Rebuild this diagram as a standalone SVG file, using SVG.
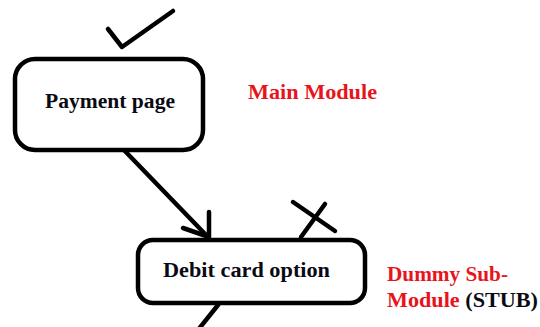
<svg xmlns="http://www.w3.org/2000/svg" width="540" height="327" viewBox="0 0 540 327">
  <style>
    .box { fill: #fff; stroke: #000; stroke-width: 4.5; }
    .ink { fill: none; stroke: #000; stroke-width: 4.5; stroke-linecap: round; stroke-linejoin: round; }
    .lbl { font-family: "Liberation Serif", "Times New Roman", "DejaVu Serif", serif; font-weight: 700; font-size: 20px; }
    .node { fill: #0a0a14; }
    .note { fill: #e8141c; }
  </style>
  <rect width="540" height="327" fill="#fff"/>

  <!-- connectors -->
  <g id="connectors">
    <path class="ink" d="M122,148 L207,236"/>
    <path class="ink" d="M209,212 L209,237 M183,228 L209,237"/>
    <path class="ink" d="M218,305 L198,330"/>
  </g>

  <!-- main module -->
  <g id="payment-page">
    <rect class="box" x="15" y="59" width="188" height="91" rx="20"/>
    <path class="ink" d="M108,29 L122,47 L173,11"/>
    <text class="lbl node" x="45" y="108" textLength="130" lengthAdjust="spacingAndGlyphs">Payment page</text>
  </g>

  <!-- stub sub-module -->
  <g id="debit-card-option">
    <rect class="box" x="138" y="240" width="227" height="63" rx="15"/>
    <path class="ink" d="M293,202 L335,231 M325,204 L301,237"/>
    <text class="lbl node" x="163" y="277" textLength="167" lengthAdjust="spacingAndGlyphs">Debit card option</text>
  </g>

  <!-- annotations -->
  <g id="labels">
    <text class="lbl note" x="248" y="99" textLength="129" lengthAdjust="spacingAndGlyphs">Main Module</text>
    <text class="lbl note" x="387" y="281" textLength="121" lengthAdjust="spacingAndGlyphs">Dummy Sub-</text>
    <text class="lbl" x="387" y="307" textLength="151" lengthAdjust="spacingAndGlyphs"><tspan class="note">Module </tspan><tspan class="node">(STUB)</tspan></text>
  </g>
</svg>
